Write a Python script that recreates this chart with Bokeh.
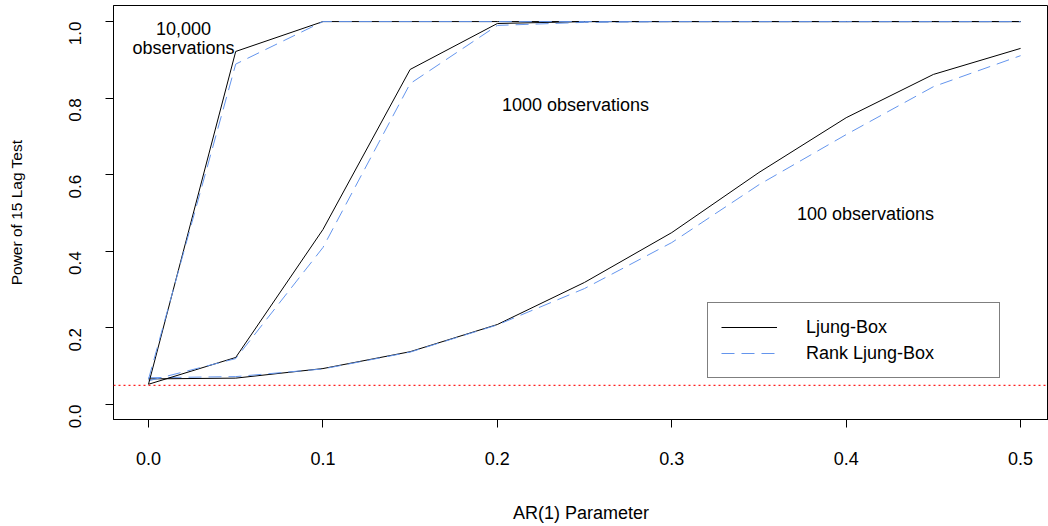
import math
from bokeh.plotting import figure
from bokeh.models import (Range1d, FixedTicker, PrintfTickFormatter, Span,
                          Legend, LegendItem, ColumnDataSource)
from bokeh.core.properties import value
from bokeh.embed import file_html
from bokeh.resources import INLINE

# ---------------- data ----------------
ar_param = [0.0, 0.05, 0.10, 0.15, 0.20, 0.25, 0.30, 0.35, 0.40, 0.45, 0.50]

lb_100 = [0.067, 0.069, 0.094, 0.138, 0.209, 0.319, 0.449, 0.606, 0.749, 0.862, 0.930]
rank_100 = [0.070, 0.073, 0.093, 0.137, 0.208, 0.303, 0.423, 0.574, 0.705, 0.830, 0.911]

lb_1000 = [0.053, 0.123, 0.457, 0.875, 0.995, 1.0, 1.0, 1.0, 1.0, 1.0, 1.0]
rank_1000 = [0.062, 0.120, 0.410, 0.838, 0.990, 0.998, 1.0, 1.0, 1.0, 1.0, 1.0]

lb_10000 = [0.053, 0.922, 1.0, 1.0, 1.0, 1.0, 1.0, 1.0, 1.0, 1.0, 1.0]
rank_10000 = [0.066, 0.889, 1.0, 1.0, 1.0, 1.0, 1.0, 1.0, 1.0, 1.0, 1.0]

nominal_level = 0.05

x_ticks = [0.0, 0.1, 0.2, 0.3, 0.4, 0.5]
y_ticks = [0.0, 0.2, 0.4, 0.6, 0.8, 1.0]

anno_x = [0.0201, 0.0201, 0.2448, 0.4111]
anno_y = [0.982, 0.930, 0.781, 0.4987]
anno_text = ["10,000", "observations", "1000 observations", "100 observations"]

legend_labels = ["Ljung-Box", "Rank Ljung-Box"]

FONT = "Liberation Sans"
FS = "18px"
BLUE = "#6495ED"

# ---------------- figure ----------------
p = figure(width=1048, height=526, output_backend="svg", toolbar_location=None,
           x_range=Range1d(-0.02007, 0.516), y_range=Range1d(-0.039, 1.042),
           min_border_left=113, min_border_right=0, min_border_top=5,
           min_border_bottom=107, background_fill_color="white",
           border_fill_color="white")
p.grid.visible = False
p.outline_line_color = "black"
p.outline_line_width = 1

for ax, ticks in ((p.xaxis[0], x_ticks), (p.yaxis[0], y_ticks)):
    ax.ticker = FixedTicker(ticks=ticks)
    ax.formatter = PrintfTickFormatter(format="%.1f")
    ax.major_tick_out = 8
    ax.major_tick_in = 0
    ax.minor_tick_out = 0
    ax.minor_tick_in = 0
    ax.axis_line_color = "black"
    ax.major_tick_line_color = "black"
    ax.major_label_text_font = FONT
    ax.major_label_text_font_size = FS
    ax.major_label_text_color = "black"
    ax.axis_label_text_font = FONT
    ax.axis_label_text_font_size = FS
    ax.axis_label_text_font_style = "normal"
    ax.axis_label_text_color = "black"

p.xaxis.axis_label = "AR(1) Parameter"
p.xaxis.major_label_standoff = 24
p.xaxis.axis_label_standoff = 35

p.yaxis.axis_label = "Power of 15 Lag Test"
p.yaxis.axis_label_text_font_size = "15.5px"
p.yaxis.major_label_text_font_size = "17px"
p.yaxis.major_label_orientation = math.pi / 2
p.yaxis.major_label_standoff = 30
p.yaxis.axis_label_standoff = 36

# nominal level line
p.add_layout(Span(location=nominal_level, dimension="width", line_color="#FF2020",
                  line_dash="2 3", line_width=1.4))

# series
lb_renderers = []
rk_renderers = []
for lb, rk in ((lb_100, rank_100), (lb_1000, rank_1000), (lb_10000, rank_10000)):
    r1 = p.line(ar_param, lb, line_color="black", line_width=1)
    r2 = p.line(ar_param, rk, line_color=BLUE, line_width=1, line_dash="13 7")
    lb_renderers.append(r1)
    rk_renderers.append(r2)

# annotations
src = ColumnDataSource(dict(x=anno_x, y=anno_y, t=anno_text))
p.text(x="x", y="y", text="t", source=src, text_align="center",
       text_baseline="middle", text_font=value(FONT), text_font_size=FS,
       text_color="black")

legend = Legend(items=[LegendItem(label=legend_labels[0], renderers=[lb_renderers[0]]),
                       LegendItem(label=legend_labels[1], renderers=[rk_renderers[0]])],
                location=(594, 41), padding=13, spacing=4, margin=0,
                glyph_width=56, glyph_height=22, label_height=22,
                label_standoff=29, label_width=180,
                label_text_font=FONT, label_text_font_size=FS,
                label_text_color="black",
                border_line_color="black", border_line_width=1,
                background_fill_alpha=1.0, background_fill_color="white")
p.add_layout(legend)

open("out.html", "w").write(file_html(p, INLINE))
